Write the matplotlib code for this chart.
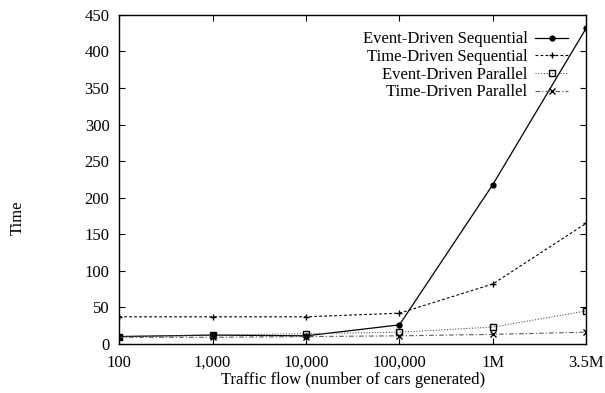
import matplotlib.pyplot as plt
import numpy as np

plt.rcParams['font.family'] = ['Liberation Serif', 'DejaVu Serif']

# Data
flows = ['100', '1,000', '10,000', '100,000', '1M', '3.5M']
ed_seq = [10, 12, 11, 26, 218, 432]
td_seq = [37, 37, 37, 42, 82, 165]
ed_par = [10, 12, 14, 16, 23, 45]
td_par = [9, 9, 10, 11, 13, 16]

x = np.arange(len(flows))

fig = plt.figure(figsize=(6.05, 3.93), dpi=100)
ax = fig.add_axes([0.197, 0.125, 0.772, 0.837])

ax.plot(x, ed_seq, color='black', lw=0.9, ls='-', marker='o', ms=3.5,
        label='Event-Driven Sequential')
ax.plot(x, td_seq, color='black', lw=0.8, ls=(0, (2.5, 2)), marker='+', ms=5,
        label='Time-Driven Sequential')
ax.plot(x, ed_par, color='#555555', lw=0.8, ls=(0, (1, 1.5)), marker='s', ms=5,
        mfc='none', mec='black', label='Event-Driven Parallel')
ax.plot(x, td_par, color='#555555', lw=0.8, ls=(0, (4, 2, 1, 2)), marker='x', ms=4,
        mec='black', label='Time-Driven Parallel')

ax.set_xlim(0, len(flows) - 1)
ax.set_ylim(0, 450)
ax.set_xticks(x)
ax.set_xticklabels(flows)
ax.set_yticks(np.arange(0, 451, 50))
ax.tick_params(direction='in', top=True, right=True, labelsize=12, length=4, width=0.8)
ax.tick_params(axis='x', pad=8)
ax.tick_params(axis='y', pad=7)
for s in ax.spines.values():
    s.set_linewidth(1.0)

ax.set_xlabel('Traffic flow (number of cars generated)', fontsize=12, labelpad=1)
fig.text(0.03, 0.447, 'Time', rotation=90, fontsize=12, ha='center', va='center')

ax.legend(loc='upper right', bbox_to_anchor=(0.976, 0.97), frameon=False, markerfirst=False,
          fontsize=12, handlelength=2.0, handletextpad=0.45, labelspacing=0.1,
          borderaxespad=0)

fig.savefig('out.png', dpi=100)
